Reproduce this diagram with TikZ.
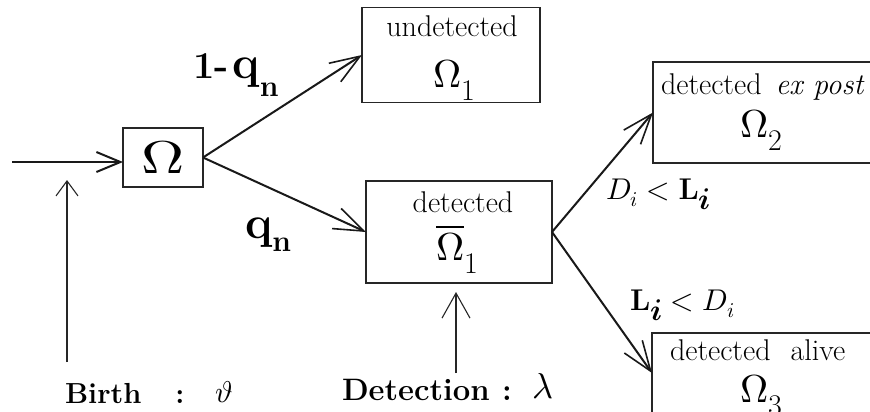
\documentclass[tikz,border=0pt]{standalone}
\usepackage{fontspec}
\usepackage{unicode-math}
\setmathfont{Latin Modern Math}
\usetikzlibrary{arrows.meta}
\newcommand\fsz[1]{\fontsize{#1}{#1}\selectfont}
\begin{document}
\begin{tikzpicture}[x=1pt,y=-1pt,
  every node/.style={inner sep=0pt,outer sep=0pt},
  box/.style={draw=black!85,line width=1.5pt},
  conn/.style={line width=2pt,black!90,-{Straight Barb[length=30pt,width=22pt,line width=1.6pt]}},
  conn0/.style={line width=2.5pt,black!90,-{Straight Barb[length=24pt,width=20pt,line width=2pt]}},
  thinarr/.style={line width=1.3pt,black!85,-{Straight Barb[length=15pt,width=22pt,line width=1.1pt]}},
  thinarrb/.style={line width=1.3pt,black!85,-{Straight Barb[length=25pt,width=28pt,line width=1.1pt]}},
  txt/.style={font=\fsz{30}},
  omg/.style={font=\fsz{39}}]
\clip (0,0) rectangle (870,412);
\fill[white] (0,0) rectangle (870,412);
% boxes
\node[box,minimum width=80pt,minimum height=59pt] (om) at (163,157.5) {};
\node[font=\fsz{46}] (omt) at (163,157.5) {\scalebox{1.3}[1]{$\Omega$}};
\node[box,minimum width=178pt,minimum height=95pt] (und) at (451,55) {};
\node[txt,anchor=base] (undt) at (452,37) {undetected};
\node[omg,anchor=base west] (undo) at (433,88) {$\Omega$\raisebox{-13pt}{\fsz{30}1}};
\node[box,minimum width=186pt,minimum height=102pt] (det) at (459,232) {};
\node[txt,anchor=base] (dett) at (463,212) {detected};
\node[omg,anchor=base west] (deto) at (436,260) {$\overline{\Omega}$\raisebox{-13pt}{\fsz{30}1}};
\node[box,minimum width=247pt,minimum height=101pt] (expo) at (776.5,112.5) {};
\node[txt,anchor=base west] (expot) at (661,95) {detected\hskip 14pt\textit{ex post}};
\node[omg,anchor=base west] (expoo) at (740,137) {$\Omega$\raisebox{-13pt}{\fsz{30}2}};
\node[box,minimum width=248pt,minimum height=80pt] (alive) at (776,373) {};
\node[txt,anchor=base west] (alivet) at (670,360) {detected\hskip 20pt alive};
\node[omg,anchor=base west] (aliveo) at (740,402) {$\Omega$\raisebox{-13pt}{\fsz{30}3}};
% connectors
\coordinate (in) at (12,162);
\draw[conn0] (in) -- (in -| om.west);
\draw[conn] (om.east) -- (und.west);
\draw[conn] (om.east) -- (det.west);
\draw[conn] (det.east) -- (expo.west);
\draw[conn] (det.east) -- (alive.west);
\coordinate (b0) at (67,362);
\coordinate (b1) at (67,180);
\draw[thinarr] (b0) -- (b1);
\coordinate (d0) at (456,373);
\coordinate (d1) at (456,292);
\draw[thinarrb] (d0) -- (d1);
% labels
\node[anchor=base west,font=\fsz{38}\bfseries] (l1) at (193,78) {1-\kern4pt{\fsz{46}q}\raisebox{-18pt}{\fsz{30}n}};
\node[anchor=base west,font=\fsz{38}\bfseries] (l2) at (245,238) {{\fsz{46}q}\raisebox{-13pt}{\fsz{30}n}};
\node[anchor=base west,font=\fsz{30}] (l3) at (606,199) {$D_i<\mathbf{L}$\raisebox{-10pt}{$\symbfit{i}$}};
\node[anchor=base west,font=\fsz{30}] (l4) at (630,310) {$\mathbf{L}$\raisebox{-10pt}{$\symbfit{i}$}$\;<D_i$};
\node[anchor=base west,font=\fsz{29}\bfseries] (bt) at (65,403) {Birth};
\node[anchor=base,font=\fsz{29}\bfseries] (bc) at (180,403) {:};
\node[anchor=base west,font=\fsz{30}] (bv) at (215,402) {$\vartheta$};
\node[anchor=base west,font=\fsz{31}\bfseries] (dt) at (342,400) {Detection};
\node[anchor=base,font=\fsz{31}\bfseries] (dc) at (507,400) {:};
\node[anchor=base west,font=\fsz{36}] (dl) at (532,398) {$\lambda$};
\end{tikzpicture}
\end{document}
